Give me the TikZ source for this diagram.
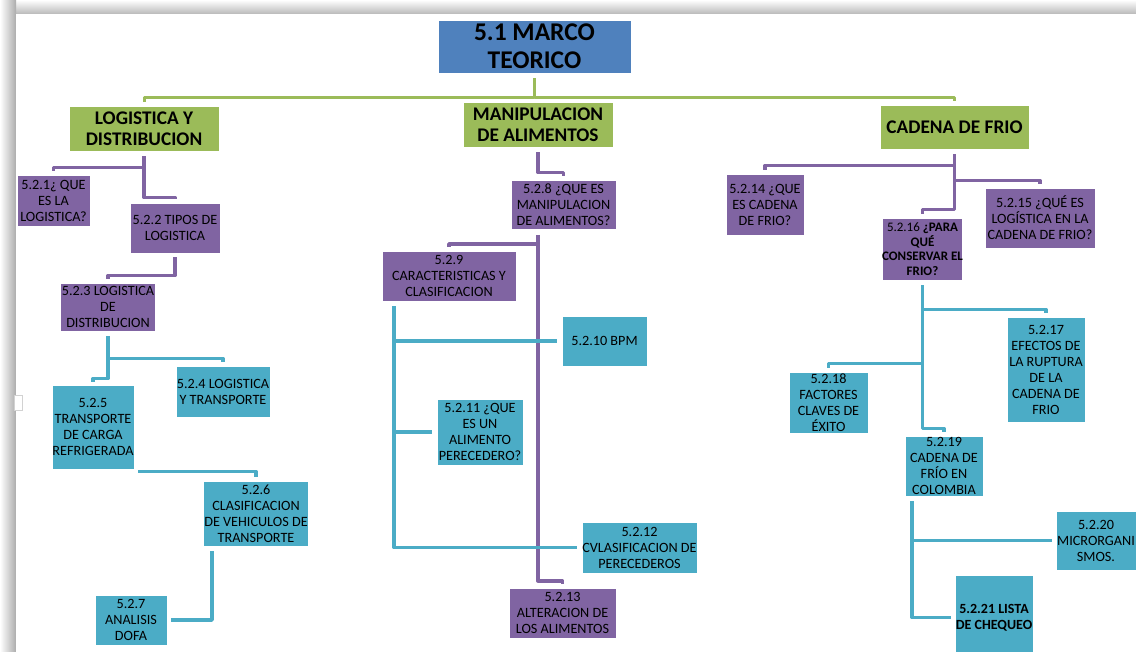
\documentclass[tikz,border=0pt]{standalone}
\usepackage{fontspec}
\setmainfont{Carlito}
\definecolor{tblue}{HTML}{4F81BD}
\definecolor{ogreen}{HTML}{9BBB59}
\definecolor{opurp}{HTML}{8064A2}
\definecolor{ocyan}{HTML}{4BACC6}
\tikzset{
  box/.style={draw=white, line width=0.8pt, inner sep=0pt, align=center, text=black},
  titlebox/.style={box, fill=tblue, font=\fontsize{25.5}{28}\selectfont\bfseries},
  gbox/.style={box, fill=ogreen, font=\fontsize{19.3}{20.5}\selectfont\bfseries},
  pbox/.style={box, fill=opurp, font=\fontsize{14.2}{16}\selectfont},
  cbox/.style={box, fill=ocyan, font=\fontsize{14.2}{16}\selectfont},
  gline/.style={draw=ogreen, line width=3pt, line join=round},
  pline/.style={draw=opurp, line width=3.5pt, line join=round},
  cline/.style={draw=ocyan, line width=3.5pt, line join=round},
}
\begin{document}
\begin{tikzpicture}[x=1pt,y=-1pt]
\useasboundingbox (0,0) rectangle (1136,652);
\clip (0,0) rectangle (1136,652);
% page and shadow
\fill[white] (0,0) rectangle (1136,652);
\shade[top color=white, bottom color=gray!55] (0,0) rectangle (1136,14);
\shade[left color=white, right color=gray!65] (0,0) rectangle (16,652);
\fill[white] (16,14) rectangle (1136,652);
\draw[gray!35, line width=0.6pt, fill=white] (14,395) rectangle (22,410);

% nodes
\node[titlebox, minimum width=193, minimum height=53] (title) at (534.5,46.5) {5.1 MARCO\\TEORICO};
\node[gbox, minimum width=150, minimum height=45] (log) at (144,128.5) {LOGISTICA Y\\DISTRIBUCION};
\node[gbox, minimum width=150, minimum height=45] (man) at (538,124.5) {MANIPULACION\\DE ALIMENTOS};
\node[gbox, minimum width=149, minimum height=44] (cad) at (954.5,127) {CADENA DE FRIO};

\node[pbox, minimum width=73, minimum height=51] (n521) at (53.5,201) {5.2.1¿ QUE\\ES LA\\LOGISTICA?};
\node[pbox, minimum width=90, minimum height=50] (n522) at (175,228) {5.2.2 TIPOS DE\\LOGISTICA};
\node[pbox, minimum width=95, minimum height=48] (n523) at (108,307) {5.2.3 LOGISTICA\\DE\\DISTRIBUCION};
\node[cbox, minimum width=82, minimum height=84] (n525) at (93,427) {5.2.5\\TRANSPORTE\\DE CARGA\\REFRIGERADA};
\node[cbox, minimum width=94, minimum height=51] (n524) at (223,391.5) {5.2.4 LOGISTICA\\Y TRANSPORTE};
\node[cbox, minimum width=105, minimum height=65] (n526) at (256,513.5) {5.2.6\\CLASIFICACION\\DE VEHICULOS DE\\TRANSPORTE};
\node[cbox, minimum width=72, minimum height=50] (n527) at (131,620) {5.2.7\\ANALISIS\\DOFA};

\node[pbox, minimum width=105, minimum height=49] (n528) at (563.5,205) {5.2.8 ¿QUE ES\\MANIPULACION\\DE ALIMENTOS?};
\node[pbox, minimum width=134, minimum height=50] (n529) at (449,276) {5.2.9\\CARACTERISTICAS Y\\CLASIFICACION};
\node[cbox, minimum width=85, minimum height=50] (n5210) at (604.5,341) {5.2.10 BPM};
\node[cbox, minimum width=86, minimum height=66] (n5211) at (480,432) {5.2.11 ¿QUE\\ES UN\\ALIMENTO\\PERECEDERO?};
\node[cbox, minimum width=115, minimum height=51] (n5212) at (639.5,547.5) {5.2.12\\CVLASIFICACION DE\\PERECEDEROS};
\node[pbox, minimum width=107, minimum height=50] (n5213) at (562.5,613) {5.2.13\\ALTERACION DE\\LOS ALIMENTOS};

\node[pbox, minimum width=78, minimum height=61] (n5214) at (765,204.5) {5.2.14 ¿QUE\\ES CADENA\\DE FRIO?};
\node[pbox, minimum width=110, minimum height=60] (n5215) at (1040,218) {5.2.15 ¿QUÉ ES\\LOGÍSTICA EN LA\\CADENA DE FRIO?};
\node[pbox, minimum width=79, minimum height=62, font=\fontsize{13}{14.5}\selectfont] (n5216) at (922.5,249) {5.2.16 \textbf{¿PARA}\\\textbf{QUÉ}\\\textbf{CONSERVAR EL}\\\textbf{FRIO?}};
\node[cbox, minimum width=78, minimum height=105] (n5217) at (1046,369.5) {5.2.17\\EFECTOS DE\\LA RUPTURA\\DE LA\\CADENA DE\\FRIO};
\node[cbox, minimum width=79, minimum height=61] (n5218) at (828.5,402.5) {5.2.18\\FACTORES\\CLAVES DE\\ÉXITO};
\node[cbox, minimum width=78, minimum height=60] (n5219) at (944,466) {5.2.19\\CADENA DE\\FRÍO EN\\COLOMBIA};
\node[cbox, minimum width=80, minimum height=59] (n5220) at (1096,540.5) {5.2.20\\MICRORGANI\\SMOS.};
\node[cbox, minimum width=78, minimum height=85, font=\fontsize{14}{16}\selectfont\bfseries] (n5221) at (994,617.5) {5.2.21 LISTA\\DE CHEQUEO};

% green connectors
\draw[gline] ([yshift=-5pt]title.south) -- ++(0,19) -| ([yshift=4pt]log.north);
\draw[gline] ([yshift=-5pt]title.south) ++(0,19) -| ([yshift=4pt]cad.north);

% logistica branch
\draw[pline] ([yshift=-5pt]log.south) -- ++(0,41) -| ([yshift=4pt]n522.north);
\draw[pline] ([yshift=-5pt]log.south) ++(0,11) -| ([yshift=4pt]n521.north);
\draw[pline] ([yshift=-4pt]n522.south) -- ++(0,18) -| ([yshift=4pt]n523.north);
\draw[cline] ([yshift=-5pt]n523.south) -- ++(0,42) -| ([yshift=3pt]n525.north);
\draw[cline] ([yshift=-5pt]n523.south) ++(0,22) -| ([yshift=4pt]n524.north);
\draw[cline] ([xshift=4pt,yshift=-2pt]n525.south east) -| ([yshift=4pt]n526.north);
\draw[cline] ([xshift=-44pt,yshift=-5pt]n526.south) |- ([xshift=4pt]n527.east);

% manipulacion branch
\draw[pline] ([yshift=-5pt]man.south) -- ++(0,20) -| ([yshift=4pt]n528.north);
\draw[pline] ([xshift=-25.5pt,yshift=-5pt]n528.south) -- ++(0,346) -| ([yshift=4pt]n5213.north);
\draw[pline] ([xshift=-25.5pt,yshift=-5pt]n528.south) ++(0,9) -| ([yshift=4pt]n529.north);
\draw[cline] ([xshift=-55pt,yshift=-5pt]n529.south) |- ([xshift=-5pt]n5212.west);
\draw[cline] ([xshift=-55pt,yshift=-5pt]n529.south) |- ([xshift=-5pt]n5210.west);
\draw[cline] ([xshift=-55pt,yshift=-5pt]n529.south) |- ([xshift=-5pt]n5211.west);

% cadena branch
\draw[pline] ([yshift=-5pt]cad.south) -- ++(0,55) -| ([yshift=4pt]n5216.north);
\draw[pline] ([yshift=-5pt]cad.south) ++(0,11) -| ([yshift=4pt]n5214.north);
\draw[pline] ([yshift=-5pt]cad.south) ++(0,26) -| ([yshift=4pt]n5215.north);
\draw[cline] ([yshift=-5pt]n5216.south) -- ++(0,143) -| ([yshift=4pt]n5219.north);
\draw[cline] ([yshift=-5pt]n5216.south) ++(0,24) -| ([yshift=4pt]n5217.north);
\draw[cline] ([yshift=-5pt]n5216.south) ++(0,78) -| ([yshift=4pt]n5218.north);
\draw[cline] ([xshift=-32pt,yshift=-5pt]n5219.south) |- ([xshift=-4pt]n5221.west);
\draw[cline] ([xshift=-32pt,yshift=-5pt]n5219.south) |- ([xshift=-4pt]n5220.west);
\end{tikzpicture}
\end{document}
